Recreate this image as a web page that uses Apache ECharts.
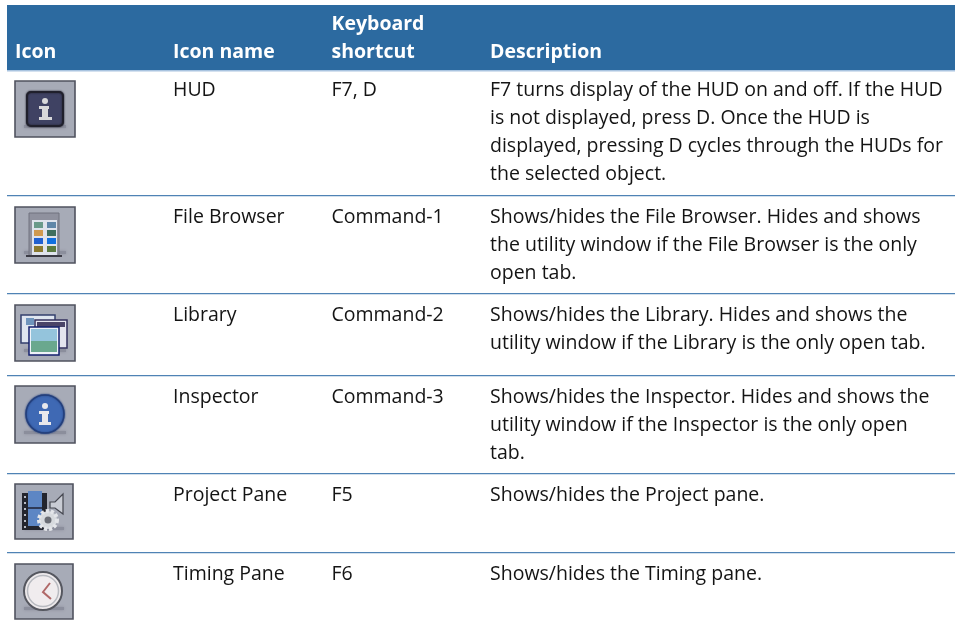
<!DOCTYPE html>
<html><head><meta charset="utf-8">
<style>html,body{margin:0;padding:0;background:#fff}#c{width:955px;height:628px}</style>
<script src="https://cdn.jsdelivr.net/npm/echarts@6/dist/echarts.min.js"></script>
</head><body><div id="c"></div>
<script>
const headers = ['Icon', 'Icon name', 'Keyboard\nshortcut', 'Description'];
const iconNames = ['HUD', 'File Browser', 'Library', 'Inspector', 'Project Pane', 'Timing Pane'];
const shortcuts = ['F7, D', 'Command-1', 'Command-2', 'Command-3', 'F5', 'F6'];
const descriptions = [
  'F7 turns display of the HUD on and off. If the HUD\nis not displayed, press D. Once the HUD is\ndisplayed, pressing D cycles through the HUDs for\nthe selected object.',
  'Shows/hides the File Browser. Hides and shows\nthe utility window if the File Browser is the only\nopen tab.',
  'Shows/hides the Library. Hides and shows the\nutility window if the Library is the only open tab.',
  'Shows/hides the Inspector. Hides and shows the\nutility window if the Inspector is the only open\ntab.',
  'Shows/hides the Project pane.',
  'Shows/hides the Timing pane.'
];

// layout
const FONT = '"Open Sans"';
const SIZE = 19.5, LH = 28;
const colX = [15, 173, 331.5, 490];
const rowTextY = [76, 203, 301, 383, 481, 560];
const rules = [195.5, 293.5, 375.5, 473.5, 552.5];
const iconBox = [[15,81,60,56],[15,207,60,56],[15,305,60,56],[15,386,60,57],[15,484,58,55],[15,564,58,55]];

const els = [];
els.push({type:'rect',shape:{x:7,y:5,width:948,height:65},style:{fill:'#2c6aa0'}});
els.push({type:'rect',shape:{x:7,y:70,width:948,height:1.5},style:{fill:'#a9c4e0'}});
rules.forEach(y=>els.push({type:'rect',shape:{x:7,y:y-.5,width:948,height:1.2},style:{fill:'#4f83b5'}}));

function text(x,y,t,o){
  els.push({type:'text',x,y,style:Object.assign({text:t,fontFamily:FONT,fontSize:SIZE,lineHeight:LH,fill:'#141414',textVerticalAlign:'top'},o||{})});
}
const hs = {fill:'#fff',fontWeight:700,fontSize:19.5};
text(colX[0],38,headers[0],hs);
text(colX[1],38,headers[1],hs);
text(colX[2],10,headers[2],hs);
text(colX[3],38,headers[3],hs);
iconNames.forEach((n,i)=>{
  text(colX[1],rowTextY[i],n);
  text(colX[2],rowTextY[i],shortcuts[i]);
  text(colX[3],rowTextY[i],descriptions[i]);
});

function r(x,y,w,h,fill,extra){els.push(Object.assign({type:'rect',shape:{x,y,width:w,height:h},style:{fill}},extra||{}));}
function c(x,y,rad,fill,extra){els.push({type:'circle',shape:{cx:x,cy:y,r:rad},style:Object.assign({fill},extra||{})});}
function frame(b){
  r(b[0],b[1],b[2],b[3],'#a7abb7',{style:{fill:'#a7abb7',stroke:'#50535f',lineWidth:1.6}});
  r(b[0]+9,b[1]+b[3]-12,b[2]-18,3,'#8b8e9c',{style:{fill:'#8b8e9c',shadowBlur:3,shadowColor:'#8b8e9c'}});
}
iconBox.forEach(frame);
// HUD
let b=iconBox[0];
r(b[0]+12,b[1]+11,36,34,'#2f3046',{shape:{x:b[0]+12,y:b[1]+11,width:36,height:34,r:4},style:{fill:'#3f4263',stroke:'#20202c',lineWidth:2,shadowBlur:2,shadowColor:'#20202c'}});
c(b[0]+30,b[1]+20,3,'#d8d8da');
r(b[0]+24,b[1]+25,10,3,'#d8d8da'); r(b[0]+27,b[1]+25,6,12,'#d8d8da'); r(b[0]+24,b[1]+36,13,3,'#d8d8da');
// File Browser
b=iconBox[1];
r(b[0]+14,b[1]+6,30,43,'#9496a3',{style:{fill:'#8f919e',stroke:'#70727f',lineWidth:1}});
r(b[0]+17,b[1]+13,25,36,'#dfe3ec');
const swatches=['#6a9a8a','#5f86a8','#d09a50','#3f6f5f','#2060d0','#1070e0','#8a7a30','#5a7a40'];
swatches.forEach((s,i)=>r(b[0]+19+(i%2)*13,b[1]+15+Math.floor(i/2)*8,9,6,s));
r(b[0]+11,b[1]+48,36,2,'#3a3a44');
// Library
b=iconBox[2];
r(b[0]+6,b[1]+10,34,28,'#dfe6f0',{style:{fill:'#dfe6f0',stroke:'#34406e',lineWidth:1.5}});
r(b[0]+11,b[1]+13,8,7,'#6f95bd');
r(b[0]+20,b[1]+15,32,28,'#e4e4ee',{style:{fill:'#e4e4ee',stroke:'#33305e',lineWidth:1.5}});
r(b[0]+22,b[1]+17,28,5,'#4a4468');
r(b[0]+14,b[1]+22,30,28,'#eef2f8',{style:{fill:'#eef2f8',stroke:'#14206e',lineWidth:1.5}});
r(b[0]+16,b[1]+24,26,12,'#94c4dc');
r(b[0]+16,b[1]+36,26,11,'#6aa88e');
// Inspector
b=iconBox[3];
c(b[0]+30,b[1]+28,19,'#3f69b4',{stroke:'#233f7c',lineWidth:1.5,shadowBlur:2,shadowColor:'#233f7c'});
c(b[0]+30,b[1]+20,3,'#e8e8ec');
r(b[0]+24,b[1]+25,10,3,'#e8e8ec'); r(b[0]+27,b[1]+25,6,13,'#e8e8ec'); r(b[0]+24,b[1]+36,12,3,'#e8e8ec');
// Project Pane
b=iconBox[4];
r(b[0]+7,b[1]+9,25,37,'#23252e');
r(b[0]+13,b[1]+7,14,35,'#5d86c4');
r(b[0]+13,b[1]+23,14,2,'#2e3a58');
[12,18,24,30,36,42].forEach(d=>r(b[0]+9,b[1]+d,2,2,'#b8bcc6'));
els.push({type:'polygon',shape:{points:[[b[0]+35,b[1]+18],[b[0]+40,b[1]+18],[b[0]+48,b[1]+10],[b[0]+48,b[1]+30],[b[0]+40,b[1]+24],[b[0]+35,b[1]+24]]},style:{fill:'#c9ccd4',stroke:'#44464f',lineWidth:1.2}});
c(b[0]+33,b[1]+36,9,'#d7dade',{stroke:'#e4e6ea',lineWidth:4,lineDash:[3,2]});
c(b[0]+33,b[1]+36,3.5,'#6a6d75');
// Timing Pane
b=iconBox[5];
c(b[0]+28,b[1]+27,19,'#eeeaec',{stroke:'#55575f',lineWidth:2});
c(b[0]+28,b[1]+27,15.5,'#f0ecee',{stroke:'#b8bac0',lineWidth:1.5});
els.push({type:'polyline',shape:{points:[[b[0]+35,b[1]+19],[b[0]+28,b[1]+28],[b[0]+36,b[1]+35]]},style:{fill:'none',stroke:'#b06868',lineWidth:2}});

const chart=echarts.init(document.getElementById('c'),null,{renderer:'canvas'});
chart.setOption({animation:false,graphic:{elements:els}});
</script></body></html>
